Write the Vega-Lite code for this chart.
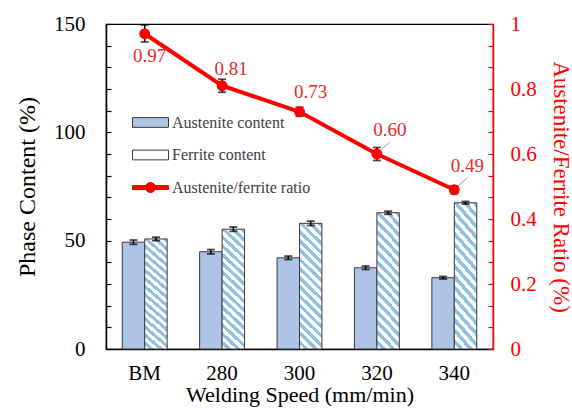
{
  "$schema": "https://vega.github.io/schema/vega-lite/v6.json",
  "width": 387,
  "height": 325,
  "autosize": "none",
  "padding": {"left": 106, "top": 24, "right": 79, "bottom": 61},
  "background": "white",
  "config": {"view": {"stroke": "#000000", "strokeWidth": 1.2}, "font": "Liberation Serif"},
  "datasets": {
    "bars": [
      {"speed": "BM", "phase": "Austenite content", "value": 49.3, "lo": 48.3, "hi": 50.3},
      {"speed": "BM", "phase": "Ferrite content", "value": 50.8, "lo": 50.0, "hi": 51.6},
      {"speed": "280", "phase": "Austenite content", "value": 44.9, "lo": 43.9, "hi": 45.9},
      {"speed": "280", "phase": "Ferrite content", "value": 55.3, "lo": 54.3, "hi": 56.3},
      {"speed": "300", "phase": "Austenite content", "value": 42.1, "lo": 41.3, "hi": 42.9},
      {"speed": "300", "phase": "Ferrite content", "value": 58.0, "lo": 57.0, "hi": 59.0},
      {"speed": "320", "phase": "Austenite content", "value": 37.5, "lo": 36.7, "hi": 38.3},
      {"speed": "320", "phase": "Ferrite content", "value": 62.9, "lo": 62.2, "hi": 63.6},
      {"speed": "340", "phase": "Austenite content", "value": 32.9, "lo": 32.3, "hi": 33.5},
      {"speed": "340", "phase": "Ferrite content", "value": 67.5, "lo": 66.9, "hi": 68.1}
    ],
    "ratio": [
      {"speed": "BM", "series": "Austenite/ferrite ratio", "ratio": 0.97, "lo": 0.945, "hi": 0.997},
      {"speed": "280", "series": "Austenite/ferrite ratio", "ratio": 0.81, "lo": 0.79, "hi": 0.83},
      {"speed": "300", "series": "Austenite/ferrite ratio", "ratio": 0.73, "lo": 0.716, "hi": 0.744},
      {"speed": "320", "series": "Austenite/ferrite ratio", "ratio": 0.60, "lo": 0.58, "hi": 0.62},
      {"speed": "340", "series": "Austenite/ferrite ratio", "ratio": 0.49, "lo": 0.478, "hi": 0.502}
    ]
  },
  "encoding": {
    "x": {
      "field": "speed", "type": "nominal",
      "sort": ["BM", "280", "300", "320", "340"],
      "scale": {"paddingInner": 0.42, "paddingOuter": 0.21},
      "axis": {
        "title": "Welding  Speed (mm/min)", "labelAngle": 0, "ticks": false,
        "labelPadding": 13, "titlePadding": 1,
        "labelFont": "Liberation Serif", "titleFont": "Liberation Serif",
        "labelFontSize": 21, "titleFontSize": 22, "titleFontWeight": "normal",
        "domainColor": "#000000", "domainWidth": 1.5, "labelColor": "#000000", "titleColor": "#000000"
      }
    }
  },
  "layer": [
    {
      "data": {"name": "bars"},
      "encoding": {
        "xOffset": {"field": "phase", "type": "nominal", "sort": ["Austenite content", "Ferrite content"], "scale": {"paddingInner": 0, "paddingOuter": 0}},
        "y": {
          "field": "value", "type": "quantitative",
          "scale": {"domain": [0, 150], "nice": false},
          "axis": {
            "title": "Phase Content (%)", "grid": false,
            "values": [0, 10, 20, 30, 40, 50, 60, 70, 80, 90, 100, 110, 120, 130, 140, 150],
            "labelExpr": "datum.value % 50 === 0 ? datum.label : ''",
            "labelOverlap": false, "tickSize": -5, "labelPadding": 26, "titlePadding": 14,
            "labelFont": "Liberation Serif", "titleFont": "Liberation Serif",
            "labelFontSize": 21, "titleFontSize": 24, "titleFontWeight": "normal",
            "domainColor": "#000000", "domainWidth": 1.5, "tickColor": "#000000", "tickWidth": 1.2,
            "labelColor": "#000000", "titleColor": "#000000"
          }
        }
      },
      "layer": [
        {
          "mark": {"type": "bar", "stroke": "#3a3a3a", "strokeWidth": 1},
          "encoding": {
            "fill": {
              "field": "phase", "type": "nominal",
              "condition": {
                "test": "datum.phase === 'Ferrite content'",
                "value": {
                  "gradient": "linear", "x1": 0, "y1": 1, "x2": 0.2, "y2": -0.14,
                  "stops": [
                    {"offset": 0, "color": "#ffffff"}, {"offset": 0.03125, "color": "#ffffff"}, {"offset": 0.03125, "color": "#93c0de"}, {"offset": 0.0625, "color": "#93c0de"},
                    {"offset": 0.0625, "color": "#ffffff"}, {"offset": 0.09375, "color": "#ffffff"}, {"offset": 0.09375, "color": "#93c0de"}, {"offset": 0.125, "color": "#93c0de"},
                    {"offset": 0.125, "color": "#ffffff"}, {"offset": 0.15625, "color": "#ffffff"}, {"offset": 0.15625, "color": "#93c0de"}, {"offset": 0.1875, "color": "#93c0de"},
                    {"offset": 0.1875, "color": "#ffffff"}, {"offset": 0.21875, "color": "#ffffff"}, {"offset": 0.21875, "color": "#93c0de"}, {"offset": 0.25, "color": "#93c0de"},
                    {"offset": 0.25, "color": "#ffffff"}, {"offset": 0.28125, "color": "#ffffff"}, {"offset": 0.28125, "color": "#93c0de"}, {"offset": 0.3125, "color": "#93c0de"},
                    {"offset": 0.3125, "color": "#ffffff"}, {"offset": 0.34375, "color": "#ffffff"}, {"offset": 0.34375, "color": "#93c0de"}, {"offset": 0.375, "color": "#93c0de"},
                    {"offset": 0.375, "color": "#ffffff"}, {"offset": 0.40625, "color": "#ffffff"}, {"offset": 0.40625, "color": "#93c0de"}, {"offset": 0.4375, "color": "#93c0de"},
                    {"offset": 0.4375, "color": "#ffffff"}, {"offset": 0.46875, "color": "#ffffff"}, {"offset": 0.46875, "color": "#93c0de"}, {"offset": 0.5, "color": "#93c0de"},
                    {"offset": 0.5, "color": "#ffffff"}, {"offset": 0.53125, "color": "#ffffff"}, {"offset": 0.53125, "color": "#93c0de"}, {"offset": 0.5625, "color": "#93c0de"},
                    {"offset": 0.5625, "color": "#ffffff"}, {"offset": 0.59375, "color": "#ffffff"}, {"offset": 0.59375, "color": "#93c0de"}, {"offset": 0.625, "color": "#93c0de"},
                    {"offset": 0.625, "color": "#ffffff"}, {"offset": 0.65625, "color": "#ffffff"}, {"offset": 0.65625, "color": "#93c0de"}, {"offset": 0.6875, "color": "#93c0de"},
                    {"offset": 0.6875, "color": "#ffffff"}, {"offset": 0.71875, "color": "#ffffff"}, {"offset": 0.71875, "color": "#93c0de"}, {"offset": 0.75, "color": "#93c0de"},
                    {"offset": 0.75, "color": "#ffffff"}, {"offset": 0.78125, "color": "#ffffff"}, {"offset": 0.78125, "color": "#93c0de"}, {"offset": 0.8125, "color": "#93c0de"},
                    {"offset": 0.8125, "color": "#ffffff"}, {"offset": 0.84375, "color": "#ffffff"}, {"offset": 0.84375, "color": "#93c0de"}, {"offset": 0.875, "color": "#93c0de"},
                    {"offset": 0.875, "color": "#ffffff"}, {"offset": 0.90625, "color": "#ffffff"}, {"offset": 0.90625, "color": "#93c0de"}, {"offset": 0.9375, "color": "#93c0de"},
                    {"offset": 0.9375, "color": "#ffffff"}, {"offset": 0.96875, "color": "#ffffff"}, {"offset": 0.96875, "color": "#93c0de"}, {"offset": 1, "color": "#93c0de"}
                  ]
                }
              },
              "scale": {
                "domain": ["Austenite content", "Ferrite content"],
                "range": ["#adc4e7", "#ffffff"]
              },
              "legend": {
                "orient": "none", "legendX": 26, "legendY": 80, "title": null, "padding": 0,
                "symbolType": "M-1,-0.27H1V0.27H-1Z", "symbolSize": 1296,
                "symbolStrokeColor": "#3a3a3a", "symbolStrokeWidth": 1,
                "labelFont": "Liberation Serif", "labelFontSize": 16, "labelColor": "#404040",
                "labelOffset": 3, "rowPadding": 5.5
              }
            }
          }
        },
        {
          "mark": {"type": "rule", "color": "#000000", "strokeWidth": 1.5},
          "encoding": {
            "y": {"field": "lo", "type": "quantitative"},
            "y2": {"field": "hi"}
          }
        },
        {
          "mark": {"type": "tick", "orient": "horizontal", "color": "#000000", "size": 8, "thickness": 1.8},
          "encoding": {"y": {"field": "lo", "type": "quantitative"}}
        },
        {
          "mark": {"type": "tick", "orient": "horizontal", "color": "#000000", "size": 8, "thickness": 1.8},
          "encoding": {"y": {"field": "hi", "type": "quantitative"}}
        }
      ]
    },
    {
      "data": {"name": "ratio"},
      "encoding": {
        "y": {
          "field": "ratio", "type": "quantitative",
          "scale": {"domain": [0, 1], "nice": false},
          "axis": {
            "orient": "right", "title": "Austenite/Ferrite Ratio (%)", "grid": false,
            "values": [0, 0.066667, 0.133333, 0.2, 0.266667, 0.333333, 0.4, 0.466667, 0.533333, 0.6, 0.666667, 0.733333, 0.8, 0.866667, 0.933333, 1],
            "format": "~g",
            "labelExpr": "indexof([0, 0.2, 0.4, 0.6, 0.8, 1], datum.value) >= 0 ? datum.label : ''",
            "labelOverlap": false, "tickSize": -5, "labelPadding": 22, "titlePadding": 12,
            "labelFont": "Liberation Serif", "titleFont": "Liberation Serif",
            "labelFontSize": 21, "titleFontSize": 23, "titleFontWeight": "normal",
            "domainColor": "#ff0000", "domainWidth": 1.5, "tickColor": "#ff0000", "tickWidth": 1.2,
            "labelColor": "#ff0000", "titleColor": "#ff0000"
          }
        }
      },
      "layer": [
        {
          "mark": {"type": "line", "strokeWidth": 4},
          "encoding": {
            "stroke": {
              "field": "series", "type": "nominal",
              "scale": {"domain": ["Austenite/ferrite ratio"], "range": ["#ff0000"]},
              "legend": {
                "orient": "none", "legendX": 26, "legendY": 145, "title": null, "padding": 0,
                "symbolType": "M-1,-0.11H1V0.11H-1Z M0.28,0A0.28,0.28,0,1,1,-0.28,0A0.28,0.28,0,1,1,0.28,0Z",
                "symbolSize": 1296, "symbolFillColor": "#ff0000", "symbolStrokeColor": "#ff0000", "symbolStrokeWidth": 1,
                "labelFont": "Liberation Serif", "labelFontSize": 16, "labelColor": "#404040",
                "labelOffset": 3
              }
            }
          }
        },
        {
          "mark": {"type": "rule", "color": "#000000", "strokeWidth": 1.5},
          "encoding": {"y": {"field": "lo", "type": "quantitative"}, "y2": {"field": "hi"}}
        },
        {
          "mark": {"type": "tick", "orient": "horizontal", "color": "#000000", "size": 8, "thickness": 1.8},
          "encoding": {"y": {"field": "lo", "type": "quantitative"}}
        },
        {
          "mark": {"type": "tick", "orient": "horizontal", "color": "#000000", "size": 8, "thickness": 1.8},
          "encoding": {"y": {"field": "hi", "type": "quantitative"}}
        },
        {
          "mark": {"type": "point", "shape": "circle", "filled": true, "size": 120, "opacity": 1, "color": "#ff0000"},
          "encoding": {}
        },
        {
          "transform": [{"filter": "datum.speed === '320' || datum.speed === '340'"}],
          "mark": {"type": "rule", "color": "#999999", "strokeWidth": 1, "xOffset": 4, "yOffset": -4, "x2Offset": 13, "y2Offset": -12},
          "encoding": {"x2": {"field": "speed"}, "y2": {"field": "ratio"}}
        },
        {
          "transform": [{"filter": "datum.speed === 'BM'"}],
          "mark": {"type": "text", "font": "Liberation Serif", "fontSize": 19, "color": "#e52a2a", "dx": 5, "dy": 22},
          "encoding": {"text": {"field": "ratio", "type": "quantitative", "format": ".2f"}}
        },
        {
          "transform": [{"filter": "datum.speed === '280'"}],
          "mark": {"type": "text", "font": "Liberation Serif", "fontSize": 19, "color": "#e52a2a", "dx": 9, "dy": -17},
          "encoding": {"text": {"field": "ratio", "type": "quantitative", "format": ".2f"}}
        },
        {
          "transform": [{"filter": "datum.speed === '300'"}],
          "mark": {"type": "text", "font": "Liberation Serif", "fontSize": 19, "color": "#e52a2a", "dx": 11, "dy": -20},
          "encoding": {"text": {"field": "ratio", "type": "quantitative", "format": ".2f"}}
        },
        {
          "transform": [{"filter": "datum.speed === '320' || datum.speed === '340'"}],
          "mark": {"type": "text", "font": "Liberation Serif", "fontSize": 19, "color": "#e52a2a", "dx": 13, "dy": -24},
          "encoding": {"text": {"field": "ratio", "type": "quantitative", "format": ".2f"}}
        }
      ]
    }
  ],
  "resolve": {"scale": {"y": "independent"}}
}
